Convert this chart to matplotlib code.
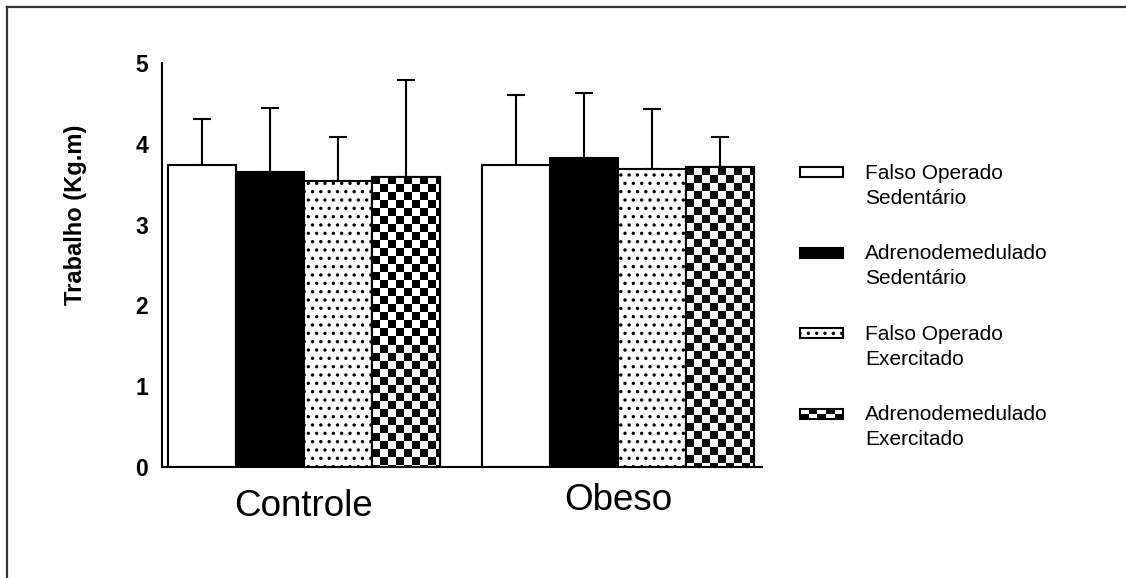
import numpy as np
import matplotlib
matplotlib.use("Agg")
import matplotlib.pyplot as plt
from matplotlib.patches import Rectangle
from matplotlib.lines import Line2D
from matplotlib.legend_handler import HandlerBase
from matplotlib.transforms import ScaledTranslation

plt.rcParams['font.family'] = ['Liberation Sans', 'DejaVu Sans']

groups = ["Controle", "Obeso"]
series = ["Falso Operado\nSedentário", "Adrenodemedulado\nSedentário",
          "Falso Operado\nExercitado", "Adrenodemedulado\nExercitado"]
means = [[3.74, 3.65, 3.54, 3.59],
         [3.74, 3.82, 3.69, 3.71]]
errors = [[0.57, 0.79, 0.54, 1.20],
          [0.86, 0.81, 0.74, 0.37]]
kinds = ["white", "black", "dots", "checker"]

CELL_PX = 8.0


class BoxHandler(HandlerBase):
    def __init__(self, kind):
        super().__init__()
        self.kind = kind

    def create_artists(self, legend, orig_handle, xdescent, ydescent,
                       width, height, fontsize, trans):
        h = 7.2
        y0 = -ydescent + (height - h) / 2 + 10.0
        x0 = -xdescent
        arts = []
        if self.kind == "checker":
            ncol, nrow = 5, 2
            cw, ch = width / ncol, h / nrow
            for i in range(nrow):
                for j in range(ncol):
                    c = "black" if (i + j) % 2 == 0 else "white"
                    arts.append(Rectangle((x0 + j * cw, y0 + i * ch), cw, ch,
                                          facecolor=c, edgecolor="none", transform=trans))
            arts.append(Rectangle((x0, y0), width, h, facecolor="none",
                                  edgecolor="black", lw=1.5, transform=trans))
        else:
            fc = "black" if self.kind == "black" else "white"
            hatch = ".." if self.kind == "dots" else None
            arts.append(Rectangle((x0, y0), width, h, facecolor=fc, edgecolor="black",
                                  lw=1.5, hatch=hatch, transform=trans))
        return arts


fig = plt.figure(figsize=(11.26, 5.78), dpi=100)
ax = fig.add_axes([162 / 1126, 1 - 467 / 578, 600 / 1126, 404 / 578])

plt.rcParams['hatch.linewidth'] = 1.2
width = 1.0
group_x = [0.0, 4.63]
xlim = (-0.59, 8.25)
ylim = (0, 5)
ax.set_xlim(*xlim)
ax.set_ylim(*ylim)

px_per_x = 600 / (xlim[1] - xlim[0])
px_per_y = 404 / (ylim[1] - ylim[0])
cw = CELL_PX / px_per_x
ch = CELL_PX / px_per_y

handles = []
for k, kind in enumerate(kinds):
    xs = [gx + k * width for gx in group_x]
    vals = [means[g][k] for g in range(len(groups))]
    errs = [errors[g][k] for g in range(len(groups))]
    fc = "black" if kind == "black" else "white"
    hatch = ".." if kind == "dots" else None
    bars = ax.bar(xs, vals, width=width, color=fc, edgecolor="black",
                  linewidth=1.5, hatch=hatch, zorder=2)
    ax.errorbar(xs, vals, yerr=[np.zeros(len(errs)), errs], fmt="none",
                ecolor="black", elinewidth=1.5, capsize=6.5, capthick=1.5, zorder=1)
    if kind == "checker":
        for b in bars:
            bx, by = b.get_x(), b.get_y()
            bw, bh = b.get_width(), b.get_height()
            nx = int(np.ceil(bw / cw))
            ny = int(np.ceil(bh / ch))
            board = (np.add.outer(np.arange(ny), np.arange(nx)) % 2).astype(float)
            im = ax.imshow(board, cmap="gray", interpolation="nearest", aspect="auto",
                           extent=[bx, bx + nx * cw, by + bh - ny * ch, by + bh],
                           origin="upper", zorder=2.5)
            im.set_clip_path(b)
            ax.add_patch(Rectangle((bx, by), bw, bh, facecolor="none",
                                   edgecolor="black", lw=1.5, zorder=3))
    handles.append(bars)

ax.set_xlim(*xlim)
ax.set_ylim(*ylim)

for s in ["top", "right"]:
    ax.spines[s].set_visible(False)
for s in ["left", "bottom"]:
    ax.spines[s].set_linewidth(1.5)

ax.set_yticks(range(0, 6))
ax.tick_params(axis="y", length=0, pad=10, labelsize=16.5)
for t in ax.get_yticklabels():
    t.set_fontweight("bold")

centers = [gx + 1.5 * width for gx in group_x]
ax.set_xticks(centers)
ax.set_xticklabels(groups, fontsize=26.5)
ax.tick_params(axis="x", length=0, pad=16)
lab = ax.get_xticklabels()[1]
lab.set_transform(lab.get_transform() + ScaledTranslation(0, 6 / 100, fig.dpi_scale_trans))

ax.set_ylabel("Trabalho (Kg.m)", fontsize=17, fontweight="bold")
ax.yaxis.set_label_coords(-0.125, 0.624)

hmap = {h: BoxHandler(kind) for h, kind in zip(handles, kinds)}
leg = fig.legend(handles, series, handler_map=hmap, loc="upper left",
                 bbox_to_anchor=(800 / 1126, 1 - 164 / 578), frameon=False,
                 fontsize=15, handlelength=2.07, handletextpad=1.05,
                 borderpad=0, borderaxespad=0, labelspacing=1.75)
for t in leg.get_texts():
    t.set_linespacing(1.4)

# screenshot border (top and left edges only)
fig.add_artist(Line2D([7.5 / 1126, 1], [1 - 6.5 / 578] * 2, color="#333333", lw=1.6))
fig.add_artist(Line2D([7.5 / 1126] * 2, [0, 1 - 6.5 / 578], color="#333333", lw=1.6))

fig.savefig("out.png", dpi=100)
